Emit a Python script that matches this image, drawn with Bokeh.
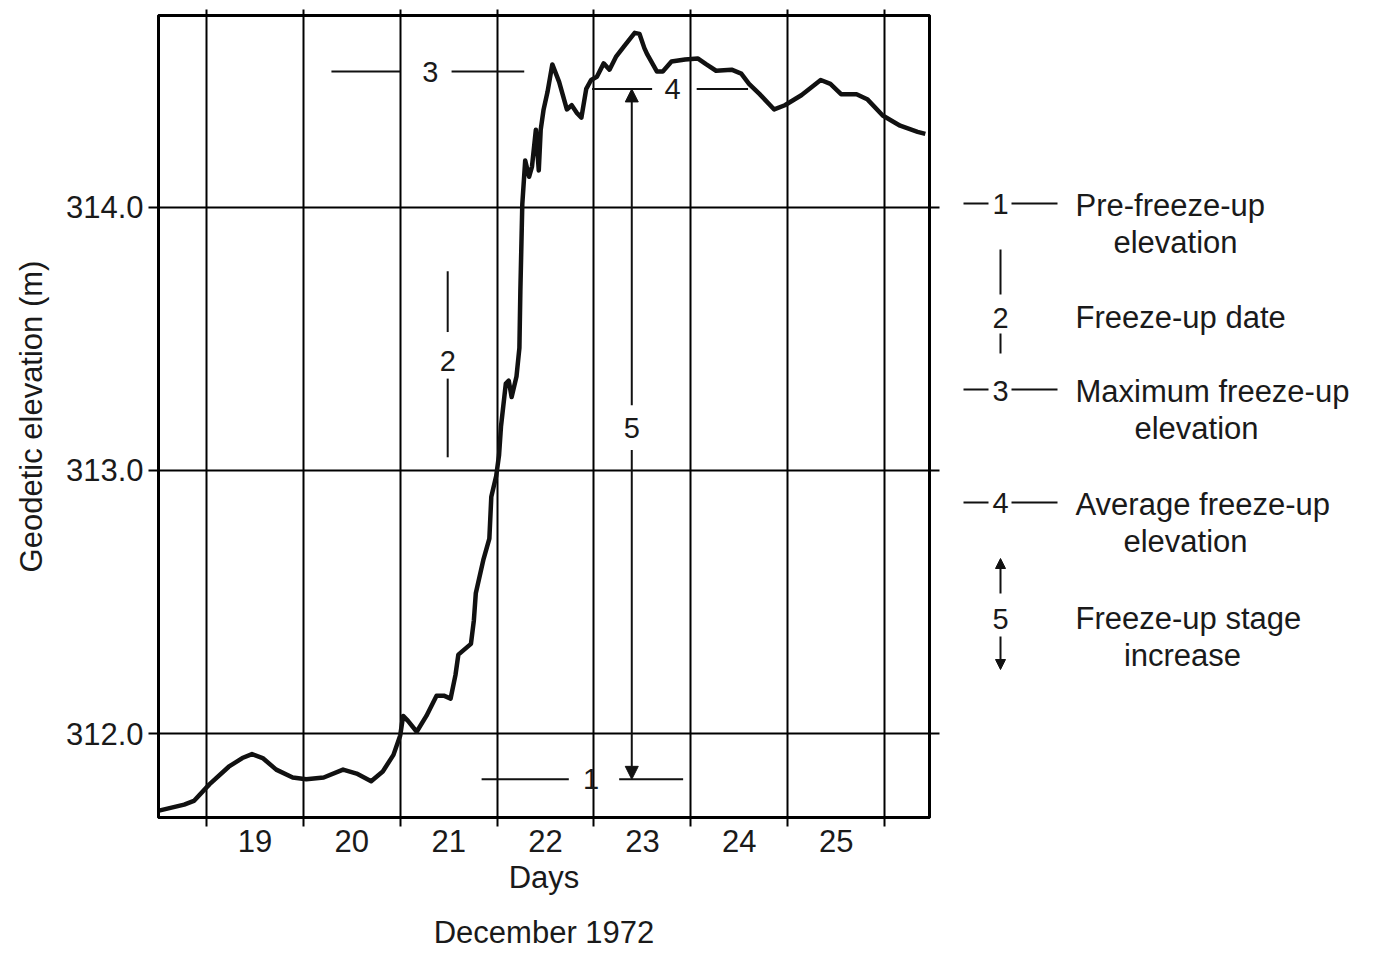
from bokeh.plotting import figure
from bokeh.models import Range1d, FixedTicker, LinearAxis, Arrow, NormalHead
from bokeh.layouts import row
from bokeh.embed import file_html
from bokeh.resources import INLINE
from bokeh.core.properties import value

FONT = "Liberation Sans"
INK = "#1a1a1a"

# ---------------- data ----------------
day = [18.51, 18.77, 18.87, 19.03, 19.23, 19.37, 19.47, 19.58, 19.72, 19.89,
       20.03, 20.21, 20.41, 20.55, 20.70, 20.82, 20.93, 21.00, 21.03, 21.08,
       21.17, 21.27, 21.375, 21.45, 21.52, 21.57, 21.60, 21.73, 21.76, 21.78,
       21.86, 21.92, 21.94, 21.99, 22.02, 22.04, 22.09, 22.12, 22.15, 22.20,
       22.23, 22.24, 22.26, 22.29, 22.33, 22.36, 22.40, 22.43, 22.45, 22.48,
       22.52, 22.57, 22.64, 22.72, 22.77, 22.82, 22.87, 22.92, 22.97, 23.03,
       23.10, 23.16, 23.23, 23.31, 23.42, 23.47, 23.52, 23.55, 23.65, 23.71,
       23.80, 23.94, 24.07, 24.16, 24.26, 24.42, 24.52, 24.60, 24.71, 24.86,
       24.97, 25.14, 25.34, 25.44, 25.55, 25.71, 25.82, 25.98, 26.16, 26.34,
       26.42]
elevation = [311.707, 311.730, 311.744, 311.807, 311.874, 311.907, 311.922, 311.907, 311.863, 311.833,
             311.826, 311.833, 311.863, 311.848, 311.819, 311.856, 311.919, 311.993, 312.067, 312.048,
             312.007, 312.067, 312.144, 312.144, 312.133, 312.222, 312.300, 312.341, 312.430, 312.533,
             312.663, 312.741, 312.900, 312.978, 313.058, 313.167, 313.330, 313.341, 313.279, 313.357,
             313.465, 313.682, 314.012, 314.178, 314.116, 314.155, 314.295, 314.140, 314.295, 314.372,
             314.438, 314.543, 314.477, 314.372, 314.388, 314.360, 314.341, 314.450, 314.484, 314.496,
             314.547, 314.523, 314.574, 314.612, 314.663, 314.659, 314.605, 314.581, 314.516, 314.516,
             314.554, 314.562, 314.566, 314.543, 314.519, 314.523, 314.508, 314.469, 314.430, 314.372,
             314.388, 314.426, 314.484, 314.469, 314.430, 314.430, 314.411, 314.349, 314.310, 314.287,
             314.279]

day_bounds = [19, 20, 21, 22, 23, 24, 25, 26]
day_labels = ["19", "20", "21", "22", "23", "24", "25"]
elev_ticks = [312.0, 313.0, 314.0]
elev_tick_labels = ["312.0", "313.0", "314.0"]

# annotation values
pre_freeze_elev = 311.826      # 1
freeze_up_day = 21.49          # 2
max_freeze_elev = 314.516      # 3
avg_freeze_elev = 314.45       # 4
stage_day = 23.39              # 5
line1_days = [(21.84, 22.74), (23.26, 23.92)]
label1_day = 22.97
line2_elevs = [(313.757, 313.526), (313.349, 313.05)]
label2_elev = 313.417
line3_days = [(20.29, 21.00), (21.53, 22.28)]
label3_day = 21.31
line4_days = [(22.98, 23.60), (24.06, 24.59)]
label4_day = 23.81
stage_gap = (313.078, 313.248)
stage_label_elev = 313.160

legend_keys = ["1", "2", "3", "4", "5"]
legend_first = ["Pre-freeze-up", "Freeze-up date", "Maximum freeze-up",
                "Average freeze-up", "Freeze-up stage"]
legend_second = ["elevation", "", "elevation", "elevation", "increase"]

# ---------------- main chart ----------------
FRAME_TOP, FRAME_BOTTOM = 15, 817
H = 954
p = figure(width=948, height=H,
           x_range=Range1d(18.505, 26.463), y_range=Range1d(311.681, 314.729),
           output_backend="svg", toolbar_location=None,
           min_border_left=158, min_border_right=19, min_border_top=FRAME_TOP,
           min_border_bottom=H - FRAME_BOTTOM, background_fill_color="white",
           border_fill_color="white")
p.outline_line_color = "black"
p.outline_line_width = 3

p.xgrid.ticker = FixedTicker(ticks=day_bounds)
p.ygrid.ticker = FixedTicker(ticks=elev_ticks)
p.grid.grid_line_color = "black"
p.grid.grid_line_width = 2
p.grid.grid_line_alpha = 1

label_pos = [d + 0.5 for d in day_bounds[:-1]]
xax = p.xaxis[0]
xax.ticker = FixedTicker(ticks=label_pos, minor_ticks=day_bounds)
xax.major_label_overrides = {pos: lab for pos, lab in zip(label_pos, day_labels)}
xax.major_tick_out = 0
xax.major_tick_in = 0
xax.minor_tick_out = 9
xax.minor_tick_in = 0
xax.minor_tick_line_width = 2
xax.major_label_standoff = 3
xax.axis_label = "Days"
xax.axis_label_standoff = 5

yax = p.yaxis[0]
yax.ticker = FixedTicker(ticks=elev_ticks)
yax.major_label_overrides = {t: s for t, s in zip(elev_ticks, elev_tick_labels)}
yax.major_tick_out = 10
yax.major_tick_in = 0
yax.minor_tick_out = 0
yax.minor_tick_in = 0
yax.major_tick_line_width = 2
yax.major_label_standoff = 5
yax.axis_label = "Geodetic elevation (m)"
yax.axis_label_standoff = 14

for ax in (xax, yax):
    ax.axis_line_color = "black"
    ax.axis_line_width = 3
    ax.major_tick_line_color = "black"
    ax.minor_tick_line_color = "black"
    ax.major_label_text_font = FONT
    ax.major_label_text_font_size = "31px"
    ax.major_label_text_color = INK
    ax.axis_label_text_font = FONT
    ax.axis_label_text_font_size = "31px"
    ax.axis_label_text_font_style = "normal"
    ax.axis_label_text_color = INK

right_ax = LinearAxis(ticker=FixedTicker(ticks=elev_ticks),
                      major_label_overrides={t: "" for t in elev_ticks},
                      major_label_text_font_size="1px", major_label_standoff=0,
                      major_tick_out=10, major_tick_in=0, minor_tick_out=0,
                      minor_tick_in=0, major_tick_line_width=2,
                      axis_line_width=3, axis_line_color="black")
p.add_layout(right_ax, "right")
top_ax = LinearAxis(ticker=FixedTicker(ticks=day_bounds),
                    major_label_overrides={t: "" for t in day_bounds},
                    major_label_text_font_size="1px", major_label_standoff=0,
                    major_tick_out=6, major_tick_in=0, minor_tick_out=0,
                    minor_tick_in=0, major_tick_line_width=2,
                    axis_line_width=3, axis_line_color="black")
p.add_layout(top_ax, "above")

# second caption line under "Days"
month_ax = LinearAxis(ticker=FixedTicker(ticks=[]), axis_line_color=None,
                      major_tick_line_color=None, minor_tick_line_color=None,
                      major_label_text_font_size="1px", major_label_standoff=0,
                      major_tick_out=0, minor_tick_out=0,
                      axis_label="December 1972", axis_label_standoff=17,
                      axis_label_text_font=FONT, axis_label_text_font_size="31px",
                      axis_label_text_font_style="normal", axis_label_text_color=INK)
p.add_layout(month_ax, "below")

# stage record
p.line(day, elevation, line_width=4.5, line_color="#111111", line_join="round")

# annotation lines 1, 3, 4 (horizontal) and 2 (vertical)
hx0, hx1, hy = [], [], []
for (a, b) in line1_days:
    hx0.append(a); hx1.append(b); hy.append(pre_freeze_elev)
for (a, b) in line3_days:
    hx0.append(a); hx1.append(b); hy.append(max_freeze_elev)
for (a, b) in line4_days:
    hx0.append(a); hx1.append(b); hy.append(avg_freeze_elev)
p.segment(x0=hx0, y0=hy, x1=hx1, y1=hy, line_width=2, line_color="#111111")
p.segment(x0=[freeze_up_day] * 2, y0=[e[0] for e in line2_elevs],
          x1=[freeze_up_day] * 2, y1=[e[1] for e in line2_elevs],
          line_width=2, line_color="#111111")

# arrow 5
for y_from, y_to in ((stage_gap[1], avg_freeze_elev), (stage_gap[0], pre_freeze_elev)):
    p.add_layout(Arrow(x_start=stage_day, y_start=y_from, x_end=stage_day, y_end=y_to,
                       line_width=2, line_color="#111111",
                       end=NormalHead(size=13, fill_color="#111111", line_color="#111111")))

p.text(x=[label1_day, freeze_up_day, label3_day, label4_day, stage_day],
       y=[pre_freeze_elev, label2_elev, max_freeze_elev, avg_freeze_elev, stage_label_elev],
       text=legend_keys, text_align="center", text_baseline="middle",
       text_font=value(FONT), text_font_size="29px", text_color=INK)

# ---------------- explanatory key (right) ----------------
# the key's frame is aligned with the chart's frame, so its y range spans the same page rows
k = figure(width=420, height=H, x_range=Range1d(948, 1368),
           y_range=Range1d(FRAME_BOTTOM, FRAME_TOP),
           output_backend="svg", toolbar_location=None, min_border=0,
           x_axis_type=None, y_axis_type=None, background_fill_color="white",
           border_fill_color="white")
k.grid.visible = False
k.outline_line_color = None

row_y = [205, 317, 391, 504, 618]
second_x = [1175, None, 1196, 1185, 1182]
text_left = 1075
sym_x = 1000
line_gap = 37

first_x, first_y, sec_x, sec_y, sec_t = [], [], [], [], []
for i, (t1, t2) in enumerate(zip(legend_first, legend_second)):
    first_x.append(text_left); first_y.append(row_y[i])
    if t2:
        sec_x.append(second_x[i]); sec_y.append(row_y[i] + line_gap); sec_t.append(t2)
k.text(x=first_x, y=first_y, text=legend_first, text_align="left", text_baseline="middle",
       text_font=value(FONT), text_font_size="31px", text_color=INK)
k.text(x=sec_x, y=sec_y, text=sec_t, text_align="center", text_baseline="middle",
       text_font=value(FONT), text_font_size="31px", text_color=INK)
k.text(x=[sym_x] * 5, y=[row_y[0] - 2, row_y[1], row_y[2] - 1, row_y[3] - 2, row_y[4]],
       text=legend_keys, text_align="center", text_baseline="middle",
       text_font=value(FONT), text_font_size="29px", text_color=INK)

# dash symbols for 1, 3, 4
dx0, dx1, dy = [], [], []
for i in (0, 2, 3):
    yy = row_y[i] - 2
    dx0 += [sym_x - 37, sym_x + 11]
    dx1 += [sym_x - 12, sym_x + 57]
    dy += [yy, yy]
k.segment(x0=dx0, y0=dy, x1=dx1, y1=dy, line_width=2, line_color="#111111")
# vertical bar symbol for 2
k.segment(x0=[sym_x, sym_x], y0=[row_y[1] - 68, row_y[1] + 16],
          x1=[sym_x, sym_x], y1=[row_y[1] - 23, row_y[1] + 36],
          line_width=2, line_color="#111111")
# arrow symbol for 5
for y_from, y_to in ((row_y[4] - 25, row_y[4] - 60), (row_y[4] + 18, row_y[4] + 51)):
    k.add_layout(Arrow(x_start=sym_x, y_start=y_from, x_end=sym_x, y_end=y_to,
                       line_width=2, line_color="#111111",
                       end=NormalHead(size=10, fill_color="#111111", line_color="#111111")))

layout = row(p, k)
open("out.html", "w").write(file_html(layout, INLINE))
